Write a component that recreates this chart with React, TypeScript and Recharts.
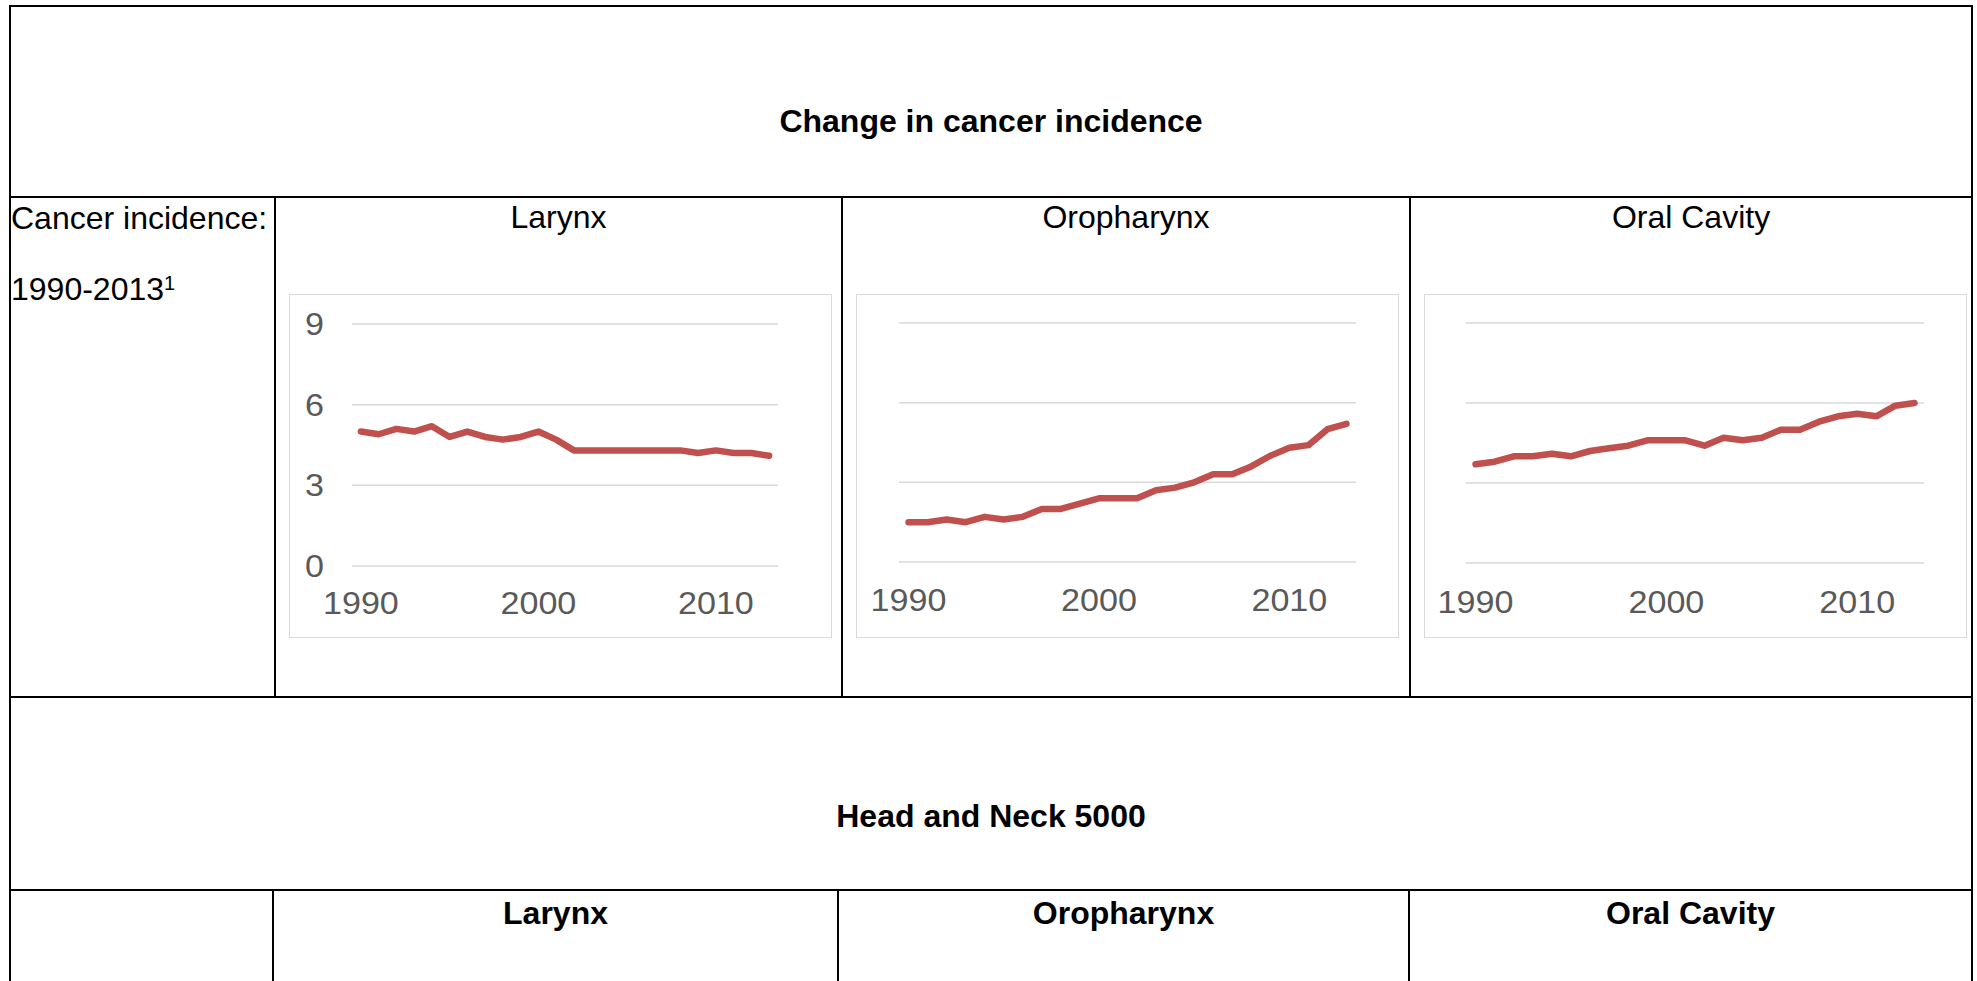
import React from "react";
import { CartesianGrid, Line, LineChart, XAxis, YAxis } from "recharts";

const years = [
  "1990", "1991", "1992", "1993", "1994", "1995", "1996", "1997", "1998", "1999", "2000", "2001",
  "2002", "2003", "2004", "2005", "2006", "2007", "2008", "2009", "2010", "2011", "2012", "2013",
];
const larynx = [5.0, 4.9, 5.1, 5.0, 5.2, 4.8, 5.0, 4.8, 4.7, 4.8, 5.0, 4.7, 4.3, 4.3, 4.3, 4.3, 4.3, 4.3, 4.3, 4.2, 4.3, 4.2, 4.2, 4.1];
const oropharynx = [1.5, 1.5, 1.6, 1.5, 1.7, 1.6, 1.7, 2.0, 2.0, 2.2, 2.4, 2.4, 2.4, 2.7, 2.8, 3.0, 3.3, 3.3, 3.6, 4.0, 4.3, 4.4, 5.0, 5.2];
const oralCavity = [3.7, 3.8, 4.0, 4.0, 4.1, 4.0, 4.2, 4.3, 4.4, 4.6, 4.6, 4.6, 4.4, 4.7, 4.6, 4.7, 5.0, 5.0, 5.3, 5.5, 5.6, 5.5, 5.9, 6.0];
const yTicks = [0, 3, 6, 9];
const headers = ["Larynx", "Oropharynx", "Oral Cavity"];

const FONT = "'Liberation Sans', Arial, sans-serif";
const RED = "#c0504d";
const GRID = "#d9d9d9";
const TICK_COLOR = "#595959";

// chart text in the source is a little wider than plain Arial
function XTick({ x, y, payload }: any) {
  return (
    <g transform={`translate(${x},${y}) scale(1.1,1)`}>
      <text x={0} y={0} dy="0.71em" textAnchor="middle" fontSize={31} fill={TICK_COLOR}>
        {payload.value}
      </text>
    </g>
  );
}

function YTick({ x, y, payload }: any) {
  return (
    <g transform={`translate(${x},${y}) scale(1.1,1)`}>
      <text x={0} y={0} dy="0.355em" textAnchor="end" fontSize={31} fill={TICK_COLOR}>
        {payload.value}
      </text>
    </g>
  );
}

function Rule({ x, y, w, h }: { x: number; y: number; w: number; h: number }) {
  return <div style={{ position: "absolute", left: x, top: y, width: w, height: h, background: "#000" }} />;
}

function Label({ x, y, bold, left, children }: { x: number; y: number; bold?: boolean; left?: boolean; children: React.ReactNode }) {
  return (
    <div
      style={{
        position: "absolute",
        left: x,
        top: y,
        transform: left ? "translateY(-50%)" : "translate(-50%, -50%)",
        fontSize: 32,
        lineHeight: "32px",
        fontWeight: bold ? 700 : 400,
        whiteSpace: "nowrap",
        color: "#000",
      }}
    >
      {children}
    </div>
  );
}

function MiniChart({
  series,
  left,
  margin,
  yWidth,
  showY,
  labelGap,
}: {
  series: number[];
  left: number;
  margin: { top: number; right: number; bottom: number; left: number };
  yWidth: number;
  showY: boolean;
  labelGap: number;
}) {
  const width = 543;
  const height = 344;
  const data = years.map((year, i) => ({ year, value: series[i] }));
  return (
    <div style={{ position: "absolute", left, top: 294, width, height }}>
      <LineChart width={width} height={height} data={data} margin={margin}>
        <CartesianGrid vertical={false} stroke={GRID} strokeWidth={1.5} />
        <XAxis
          dataKey="year"
          scale="band"
          interval={9}
          axisLine={false}
          tickLine={false}
          tickSize={6}
          tickMargin={labelGap}
          height={40}
          tick={<XTick />}
        />
        <YAxis
          domain={[0, 9]}
          ticks={yTicks}
          width={yWidth}
          hide={!showY}
          axisLine={false}
          tickLine={false}
          tickSize={6}
          tickMargin={22}
          tick={<YTick />}
        />
        <Line
          type="linear"
          dataKey="value"
          stroke={RED}
          strokeWidth={6.5}
          strokeLinecap="round"
          strokeLinejoin="round"
          dot={false}
          isAnimationActive={false}
        />
      </LineChart>
      <div
        style={{
          position: "absolute",
          left: 0,
          top: 0,
          width,
          height,
          boxSizing: "border-box",
          border: `1.5px solid ${GRID}`,
          pointerEvents: "none",
        }}
      />
    </div>
  );
}

export default function App() {
  const upperCols = [274, 841, 1409, 1971];
  const lowerCols = [272, 837, 1408, 1971];
  return (
    <div
      style={{
        position: "absolute",
        left: 0,
        top: 0,
        width: 1977,
        height: 981,
        overflow: "hidden",
        background: "#fff",
        fontFamily: FONT,
      }}
    >
      {/* table borders */}
      <Rule x={9} y={5} w={1964} h={2} />
      <Rule x={9} y={5} w={2} h={976} />
      <Rule x={1971} y={5} w={2} h={976} />
      <Rule x={9} y={196} w={1964} h={2} />
      <Rule x={9} y={696} w={1964} h={2} />
      <Rule x={9} y={889} w={1964} h={2} />
      {upperCols.slice(0, 3).map((x) => (
        <Rule key={"u" + x} x={x} y={197} w={2} h={500} />
      ))}
      {lowerCols.slice(0, 3).map((x) => (
        <Rule key={"l" + x} x={x} y={890} w={2} h={91} />
      ))}

      <Label x={991} y={121} bold>Change in cancer incidence</Label>
      <Label x={11} y={218} left>Cancer incidence:</Label>
      <Label x={11} y={289} left>
        1990-2013<sup style={{ fontSize: 20, verticalAlign: "10px", lineHeight: 0 }}>1</sup>
      </Label>
      {headers.map((h, i) => (
        <Label key={"h" + h} x={(upperCols[i] + upperCols[i + 1] + 2) / 2} y={217}>{h}</Label>
      ))}

      <MiniChart
        series={larynx}
        left={289}
        margin={{ top: 30, right: 54, bottom: 32, left: 0 }}
        yWidth={63}
        showY
        labelGap={20}
      />
      <MiniChart
        series={oropharynx}
        left={856}
        margin={{ top: 29, right: 43, bottom: 36, left: 43 }}
        yWidth={0}
        showY={false}
        labelGap={21}
      />
      <MiniChart
        series={oralCavity}
        left={1424}
        margin={{ top: 29, right: 43, bottom: 35, left: 42 }}
        yWidth={0}
        showY={false}
        labelGap={22}
      />

      <Label x={991} y={816} bold>Head and Neck 5000</Label>
      {headers.map((h, i) => (
        <Label key={"b" + h} x={(lowerCols[i] + lowerCols[i + 1] + 2) / 2} y={913} bold>{h}</Label>
      ))}
    </div>
  );
}
